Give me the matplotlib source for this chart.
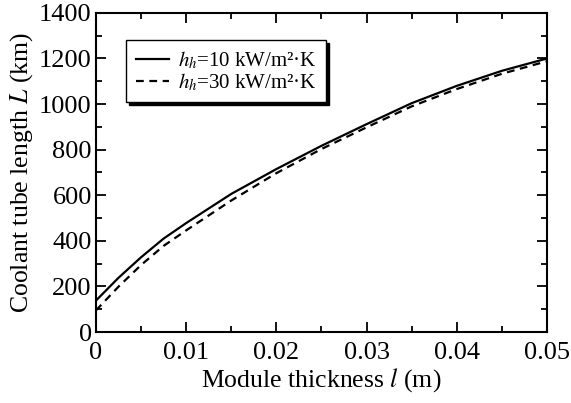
import matplotlib
matplotlib.use('Agg')
import matplotlib.pyplot as plt
from matplotlib.ticker import MultipleLocator

plt.rcParams['font.family'] = 'Liberation Serif'
plt.rcParams['mathtext.fontset'] = 'stix'

thickness = [0.0, 0.0025, 0.005, 0.0075, 0.01, 0.015, 0.02, 0.025, 0.03, 0.035, 0.04, 0.045, 0.05]
length_h10 = [138, 238, 328, 410, 478, 606, 715, 817, 912, 1004, 1080, 1146, 1200]
length_h30 = [95, 199, 294, 378, 446, 577, 697, 803, 898, 990, 1066, 1133, 1188]

fig = plt.figure(figsize=(5.71, 4.03), dpi=100)
ax = fig.add_axes([0.168, 0.176, 0.79, 0.792])

ax.plot(thickness, length_h10, color='black', linewidth=1.6, label=r'$h_h$=10 kW/m²·K')
ax.plot(thickness, length_h30, color='black', linewidth=1.6, dashes=(3.5, 2.5),
        label=r'$h_h$=30 kW/m²·K')

ax.set_xlim(0, 0.05)
ax.set_ylim(0, 1400)
ax.set_xticks([0, 0.01, 0.02, 0.03, 0.04, 0.05])
ax.set_xticklabels(['0', '0.01', '0.02', '0.03', '0.04', '0.05'])
ax.xaxis.set_minor_locator(MultipleLocator(0.005))
ax.yaxis.set_major_locator(MultipleLocator(200))
ax.yaxis.set_minor_locator(MultipleLocator(100))
ax.tick_params(which='both', direction='in', top=True, right=True, labelsize=19, width=1.3)
ax.tick_params(which='major', length=7)
ax.tick_params(which='minor', length=4)
ax.tick_params(axis='x', pad=7)
ax.tick_params(axis='y', pad=3)
for s in ax.spines.values():
    s.set_linewidth(1.5)

ax.set_xlabel('Module thickness $l$ (m)', fontsize=18.5, labelpad=2)
ax.set_ylabel('Coolant tube length $L$ (km)', fontsize=18.5, labelpad=3)

leg = ax.legend(loc='upper left', bbox_to_anchor=(0.067, 0.915), borderaxespad=0,
                fontsize=15, frameon=True, fancybox=False, edgecolor='black',
                shadow={'color': 'black', 'alpha': 1}, handlelength=1.6,
                labelspacing=0.0, borderpad=0.45, handletextpad=0.45)
leg.get_frame().set_linewidth(1.0)

fig.savefig('out.png', dpi=100)
